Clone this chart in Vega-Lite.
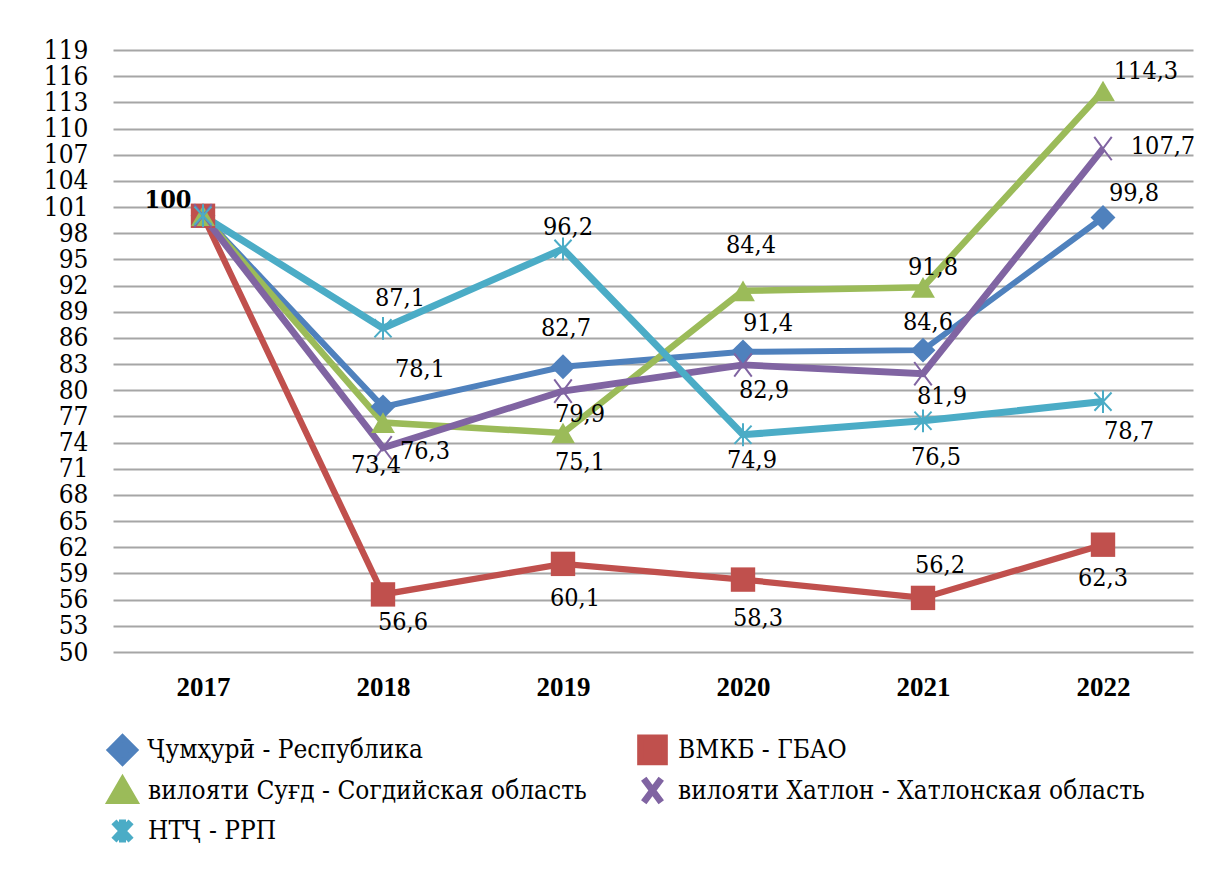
{
  "$schema": "https://vega.github.io/schema/vega-lite/v6.json",
  "width": 1080,
  "height": 602,
  "autosize": {"type": "none"},
  "padding": {"left": 113, "top": 50, "right": 13, "bottom": 218},
  "background": "white",
  "config": {"view": {"stroke": null}, "font": "DejaVu Serif Condensed, DejaVu Serif, serif"},
  "data": {
    "values": [
      {"series": "Ҷумҳурӣ - Республика", "code": "Rp", "year": "2017", "value": 100, "label": "100"},
      {"series": "Ҷумҳурӣ - Республика", "code": "Rp", "year": "2018", "value": 78.1, "label": "78,1"},
      {"series": "Ҷумҳурӣ - Республика", "code": "Rp", "year": "2019", "value": 82.7, "label": "82,7"},
      {"series": "Ҷумҳурӣ - Республика", "code": "Rp", "year": "2020", "value": 84.4, "label": "91,4"},
      {"series": "Ҷумҳурӣ - Республика", "code": "Rp", "year": "2021", "value": 84.6, "label": "84,6"},
      {"series": "Ҷумҳурӣ - Республика", "code": "Rp", "year": "2022", "value": 99.8, "label": "99,8"},
      {"series": "ВМКБ - ГБАО", "code": "G", "year": "2017", "value": 100, "label": ""},
      {"series": "ВМКБ - ГБАО", "code": "G", "year": "2018", "value": 56.6, "label": "56,6"},
      {"series": "ВМКБ - ГБАО", "code": "G", "year": "2019", "value": 60.1, "label": "60,1"},
      {"series": "ВМКБ - ГБАО", "code": "G", "year": "2020", "value": 58.3, "label": "58,3"},
      {"series": "ВМКБ - ГБАО", "code": "G", "year": "2021", "value": 56.2, "label": "56,2"},
      {"series": "ВМКБ - ГБАО", "code": "G", "year": "2022", "value": 62.3, "label": "62,3"},
      {"series": "вилояти Суғд - Согдийская область", "code": "S", "year": "2017", "value": 100, "label": ""},
      {"series": "вилояти Суғд - Согдийская область", "code": "S", "year": "2018", "value": 76.3, "label": "76,3"},
      {"series": "вилояти Суғд - Согдийская область", "code": "S", "year": "2019", "value": 75.1, "label": "75,1"},
      {"series": "вилояти Суғд - Согдийская область", "code": "S", "year": "2020", "value": 91.4, "label": "84,4"},
      {"series": "вилояти Суғд - Согдийская область", "code": "S", "year": "2021", "value": 91.8, "label": "91,8"},
      {"series": "вилояти Суғд - Согдийская область", "code": "S", "year": "2022", "value": 114.3, "label": "114,3"},
      {"series": "вилояти Хатлон - Хатлонская область", "code": "H", "year": "2017", "value": 100, "label": ""},
      {"series": "вилояти Хатлон - Хатлонская область", "code": "H", "year": "2018", "value": 73.4, "label": "73,4"},
      {"series": "вилояти Хатлон - Хатлонская область", "code": "H", "year": "2019", "value": 79.9, "label": "79,9"},
      {"series": "вилояти Хатлон - Хатлонская область", "code": "H", "year": "2020", "value": 82.9, "label": "82,9"},
      {"series": "вилояти Хатлон - Хатлонская область", "code": "H", "year": "2021", "value": 81.9, "label": "81,9"},
      {"series": "вилояти Хатлон - Хатлонская область", "code": "H", "year": "2022", "value": 107.7, "label": "107,7"},
      {"series": "НТҶ - РРП", "code": "N", "year": "2017", "value": 100, "label": ""},
      {"series": "НТҶ - РРП", "code": "N", "year": "2018", "value": 87.1, "label": "87,1"},
      {"series": "НТҶ - РРП", "code": "N", "year": "2019", "value": 96.2, "label": "96,2"},
      {"series": "НТҶ - РРП", "code": "N", "year": "2020", "value": 74.9, "label": "74,9"},
      {"series": "НТҶ - РРП", "code": "N", "year": "2021", "value": 76.5, "label": "76,5"},
      {"series": "НТҶ - РРП", "code": "N", "year": "2022", "value": 78.7, "label": "78,7"}
    ]
  },
  "encoding": {
    "x": {
      "field": "year", "type": "ordinal",
      "scale": {"type": "point", "padding": 0.5},
      "axis": {"title": null, "labelAngle": 0, "labelFont": "Liberation Serif, DejaVu Serif Condensed, serif", "labelFontSize": 27, "labelFontWeight": "bold", "labelColor": "black", "domain": false, "ticks": false, "tickSize": 0, "labelPadding": 22, "grid": false}
    },
    "y": {
      "field": "value", "type": "quantitative",
      "scale": {"domain": [50, 119], "nice": false, "zero": false},
      "axis": {"title": null, "values": [50, 53, 56, 59, 62, 65, 68, 71, 74, 77, 80, 83, 86, 89, 92, 95, 98, 101, 104, 107, 110, 113, 116, 119], "labelFont": "DejaVu Serif Condensed, DejaVu Serif, serif", "labelFontSize": 26, "labelColor": "black", "domain": false, "ticks": false, "tickSize": 0, "labelPadding": 25, "labelOverlap": false, "gridColor": "#A6A6A6", "gridWidth": 2}
    },
    "color": {
      "field": "series", "type": "nominal",
      "scale": {
        "domain": ["Ҷумҳурӣ - Республика", "ВМКБ - ГБАО", "вилояти Суғд - Согдийская область", "вилояти Хатлон - Хатлонская область", "НТҶ - РРП"],
        "range": ["#4F81BD", "#C0504D", "#9BBB59", "#8064A2", "#4BACC6"]
      },
      "legend": {
        "title": null, "orient": "none", "legendX": -6, "legendY": 684,
        "direction": "horizontal", "columns": 2, "columnPadding": 40, "rowPadding": -12,
        "labelFont": "DejaVu Serif Condensed, DejaVu Serif, serif", "labelFontSize": 26, "labelColor": "black", "labelLimit": 0, "labelOffset": 10,
        "symbolSize": 400, "symbolOpacity": 1
      }
    }
  },
  "layer": [
    {
      "mark": {"type": "line", "strokeJoin": "miter"},
      "encoding": {
        "strokeWidth": {
          "field": "series", "type": "ordinal",
          "scale": {"domain": ["Ҷумҳурӣ - Республика", "ВМКБ - ГБАО", "вилояти Суғд - Согдийская область", "вилояти Хатлон - Хатлонская область", "НТҶ - РРП"], "range": [6, 7, 8, 4, 9]},
          "legend": null
        }
      }
    },
    {
      "transform": [{"filter": "indexof(['Rp','G','S'], datum.code) >= 0"}],
      "mark": {"type": "point", "filled": true, "opacity": 1},
      "encoding": {
        "shape": {
          "field": "series", "type": "nominal",
          "scale": {"domain": ["Ҷумҳурӣ - Республика", "ВМКБ - ГБАО", "вилояти Суғд - Согдийская область", "вилояти Хатлон - Хатлонская область", "НТҶ - РРП"], "range": ["diamond", "square", "triangle-up", "M-0.75,-1L0.75,1M-0.75,1L0.75,-1", "M-0.75,-0.8L0.75,0.8M-0.75,0.8L0.75,-0.8M0,-1L0,1"]},
          "legend": null
        },
        "size": {
          "field": "series", "type": "ordinal",
          "scale": {"domain": ["Ҷумҳурӣ - Республика", "ВМКБ - ГБАО", "вилояти Суғд - Согдийская область", "вилояти Хатлон - Хатлонская область", "НТҶ - РРП"], "range": [620, 520, 620, 1000, 1369]},
          "legend": null
        }
      }
    },
    {
      "transform": [{"filter": "indexof(['H','N'], datum.code) >= 0"}],
      "mark": {"type": "point", "filled": false, "opacity": 1, "strokeWidth": 2},
      "encoding": {
        "shape": {
          "field": "series", "type": "nominal",
          "scale": {"domain": ["Ҷумҳурӣ - Республика", "ВМКБ - ГБАО", "вилояти Суғд - Согдийская область", "вилояти Хатлон - Хатлонская область", "НТҶ - РРП"], "range": ["diamond", "square", "triangle-up", "M-0.75,-1L0.75,1M-0.75,1L0.75,-1", "M-0.75,-0.8L0.75,0.8M-0.75,0.8L0.75,-0.8M0,-1L0,1"]},
          "legend": null
        },
        "size": {
          "field": "series", "type": "ordinal",
          "scale": {"domain": ["Ҷумҳурӣ - Республика", "ВМКБ - ГБАО", "вилояти Суғд - Согдийская область", "вилояти Хатлон - Хатлонская область", "НТҶ - РРП"], "range": [620, 520, 620, 1000, 1369]},
          "legend": null
        }
      }
    },
    {
      "transform": [{"filter": "datum.label != ''"}],
      "mark": {
        "type": "text", "font": "DejaVu Serif Condensed, DejaVu Serif, serif", "fontSize": 25, "align": "center", "baseline": "middle",
        "fontWeight": {"expr": "datum.year == '2017' ? 'bold' : 'normal'"},
        "dx": {"expr": "({'Rp2017':-35,'Rp2018':37,'Rp2019':3,'Rp2020':25,'Rp2021':5,'Rp2022':31,'G2018':20,'G2019':12,'G2020':15,'G2021':17,'G2022':0,'S2018':42,'S2019':17,'S2020':8,'S2021':10,'S2022':43,'H2018':-7,'H2019':17,'H2020':21,'H2021':19,'H2022':60,'N2018':17,'N2019':5,'N2020':9,'N2021':13,'N2022':26})[datum.code + datum.year]"},
        "dy": {"expr": "({'Rp2017':-16,'Rp2018':-38,'Rp2019':-39,'Rp2020':-29,'Rp2021':-28,'Rp2022':-25,'G2018':28,'G2019':34,'G2020':38,'G2021':-33,'G2022':33,'S2018':28,'S2019':29,'S2020':-46,'S2021':-20,'S2022':-20,'H2018':17,'H2019':23,'H2020':25,'H2021':22,'H2022':-3,'N2018':-30,'N2019':-22,'N2020':25,'N2021':36,'N2022':29})[datum.code + datum.year]"}
      },
      "encoding": {
        "text": {"field": "label", "type": "nominal"},
        "color": {"value": "black"}
      }
    }
  ]
}
